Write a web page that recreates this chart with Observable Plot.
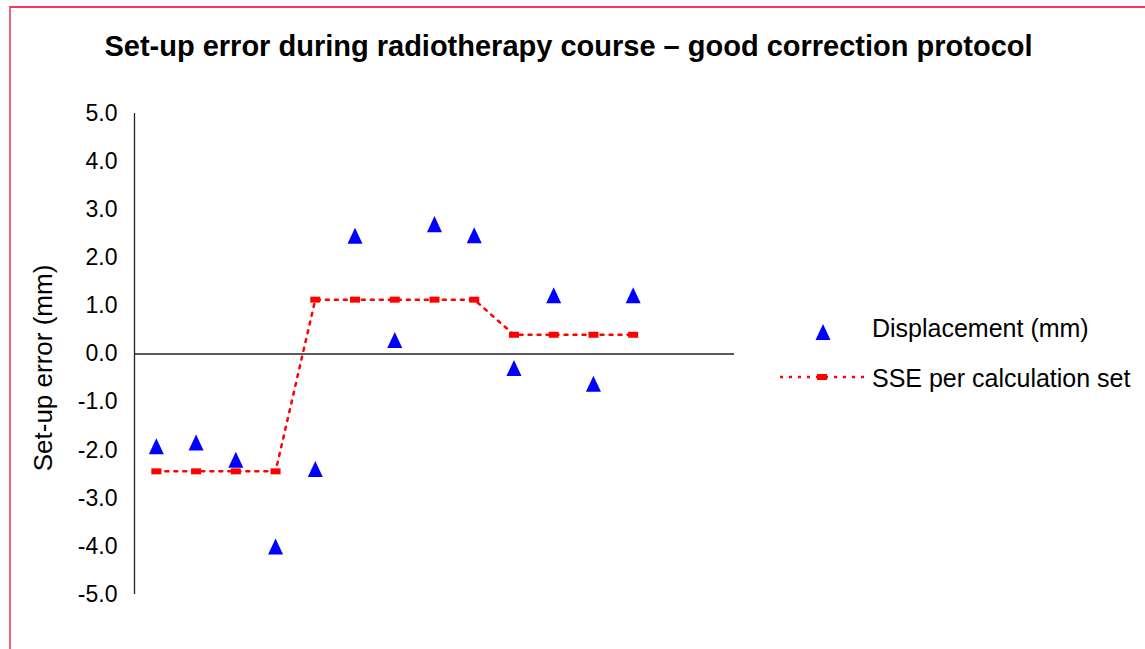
<!DOCTYPE html>
<html>
<head>
<meta charset="utf-8">
<script src="https://cdn.jsdelivr.net/npm/d3@7"></script>
<script src="https://cdn.jsdelivr.net/npm/@observablehq/plot@0.6"></script>
<style>
  html, body { margin: 0; padding: 0; background: #fff; overflow: hidden; }
  body { width: 1145px; height: 649px; position: relative; font-family: "Liberation Sans", Arial, sans-serif; }
  #frame { position: absolute; left: 9px; top: 6px; width: 1200px; height: 700px; border-left: 2px solid #f5607a; border-top: 2px solid #f5385a; box-sizing: border-box; }
  #title { position: absolute; left: 0; width: 1137px; top: 30px; text-align: center; font-weight: bold; font-size: 29px; color: #000; white-space: nowrap; }
  #ylabel { position: absolute; left: 43px; top: 368px; transform: translate(-50%, -50%) rotate(-90deg); font-size: 26px; white-space: nowrap; color: #000; }
  #chart { position: absolute; left: 0; top: 0; }
  .leg { position: absolute; font-size: 25px; color: #000; white-space: nowrap; }
  .legsym { position: absolute; }
</style>
</head>
<body>
<div id="frame"></div>
<div id="chart"></div>
<div id="title">Set-up error during radiotherapy course – good correction protocol</div>
<div id="ylabel">Set-up error (mm)</div>
<svg class="legsym" style="left:805px;top:315px" width="36" height="34"><path d="M18,9 L25.5,25 L10.5,25 Z" fill="#0000ff"/></svg>
<div class="leg" style="left:872px;top:314px">Displacement (mm)</div>
<svg class="legsym" style="left:778px;top:367px" width="88" height="20"><line x1="2" y1="10" x2="86" y2="10" stroke="#ff0000" stroke-width="2.5" stroke-dasharray="3,6"/><rect x="39" y="7" width="10" height="6" fill="#ff0000"/></svg>
<div class="leg" style="left:872px;top:364px">SSE per calculation set</div>
<script>
// Data
const sessions = [1, 2, 3, 4, 5, 6, 7, 8, 9, 10, 11, 12, 13];
const displacement = [-1.92, -1.84, -2.20, -4.00, -2.39, 2.46, 0.29, 2.70, 2.47, -0.29, 1.22, -0.62, 1.22];
const sse = [-2.44, -2.44, -2.44, -2.44, 1.13, 1.13, 1.13, 1.13, 1.13, 0.40, 0.40, 0.40, 0.40];
const yTicks = [-5, -4, -3, -2, -1, 0, 1, 2, 3, 4, 5];
const nCategories = 15;

const dispRows = sessions.map((s, i) => ({session: s, value: displacement[i]}));
const sseRows = sessions.map((s, i) => ({session: s, value: sse[i]}));

const triangleSym = {
  draw(ctx, size) {
    const r = Math.sqrt(size / Math.PI);
    const hw = r * 1.34, hh = r * 1.43;
    ctx.moveTo(0, -hh); ctx.lineTo(hw, hh); ctx.lineTo(-hw, hh); ctx.closePath();
  }
};
const rectSym = {
  draw(ctx, size) {
    const r = Math.sqrt(size / Math.PI);
    const hw = r * 1.67, hh = r;
    ctx.moveTo(-hw, -hh); ctx.lineTo(hw, -hh); ctx.lineTo(hw, hh); ctx.lineTo(-hw, hh); ctx.closePath();
  }
};

const chart = Plot.plot({
  width: 1145,
  height: 649,
  marginTop: 113,
  marginBottom: 55,
  marginLeft: 134,
  marginRight: 411,
  style: {fontFamily: '"Liberation Sans", Arial, sans-serif', background: "transparent", overflow: "visible"},
  x: {domain: [0.45, nCategories + 0.55], axis: null},
  y: {domain: [-5, 5]},
  marks: [
    Plot.axisY({ticks: yTicks, tickFormat: d => d.toFixed(1), tickSize: 0, tickPadding: 17, fontSize: 23, label: null, color: "#000"}),
    Plot.ruleY([0], {stroke: "#222", strokeWidth: 1.3}),
    Plot.ruleX([0.45], {stroke: "#222", strokeWidth: 1.3}),
    Plot.dot(dispRows, {x: "session", y: "value", symbol: triangleSym, r: 5.6, fill: "#0000ff", stroke: "none"}),
    Plot.line(sseRows, {x: "session", y: "value", stroke: "#ff0000", strokeWidth: 2.5, strokeDasharray: "3,6"}),
    Plot.dot(sseRows, {x: "session", y: "value", symbol: rectSym, r: 3, fill: "#ff0000", stroke: "none"})
  ]
});
document.getElementById("chart").appendChild(chart);
</script>
</body>
</html>
